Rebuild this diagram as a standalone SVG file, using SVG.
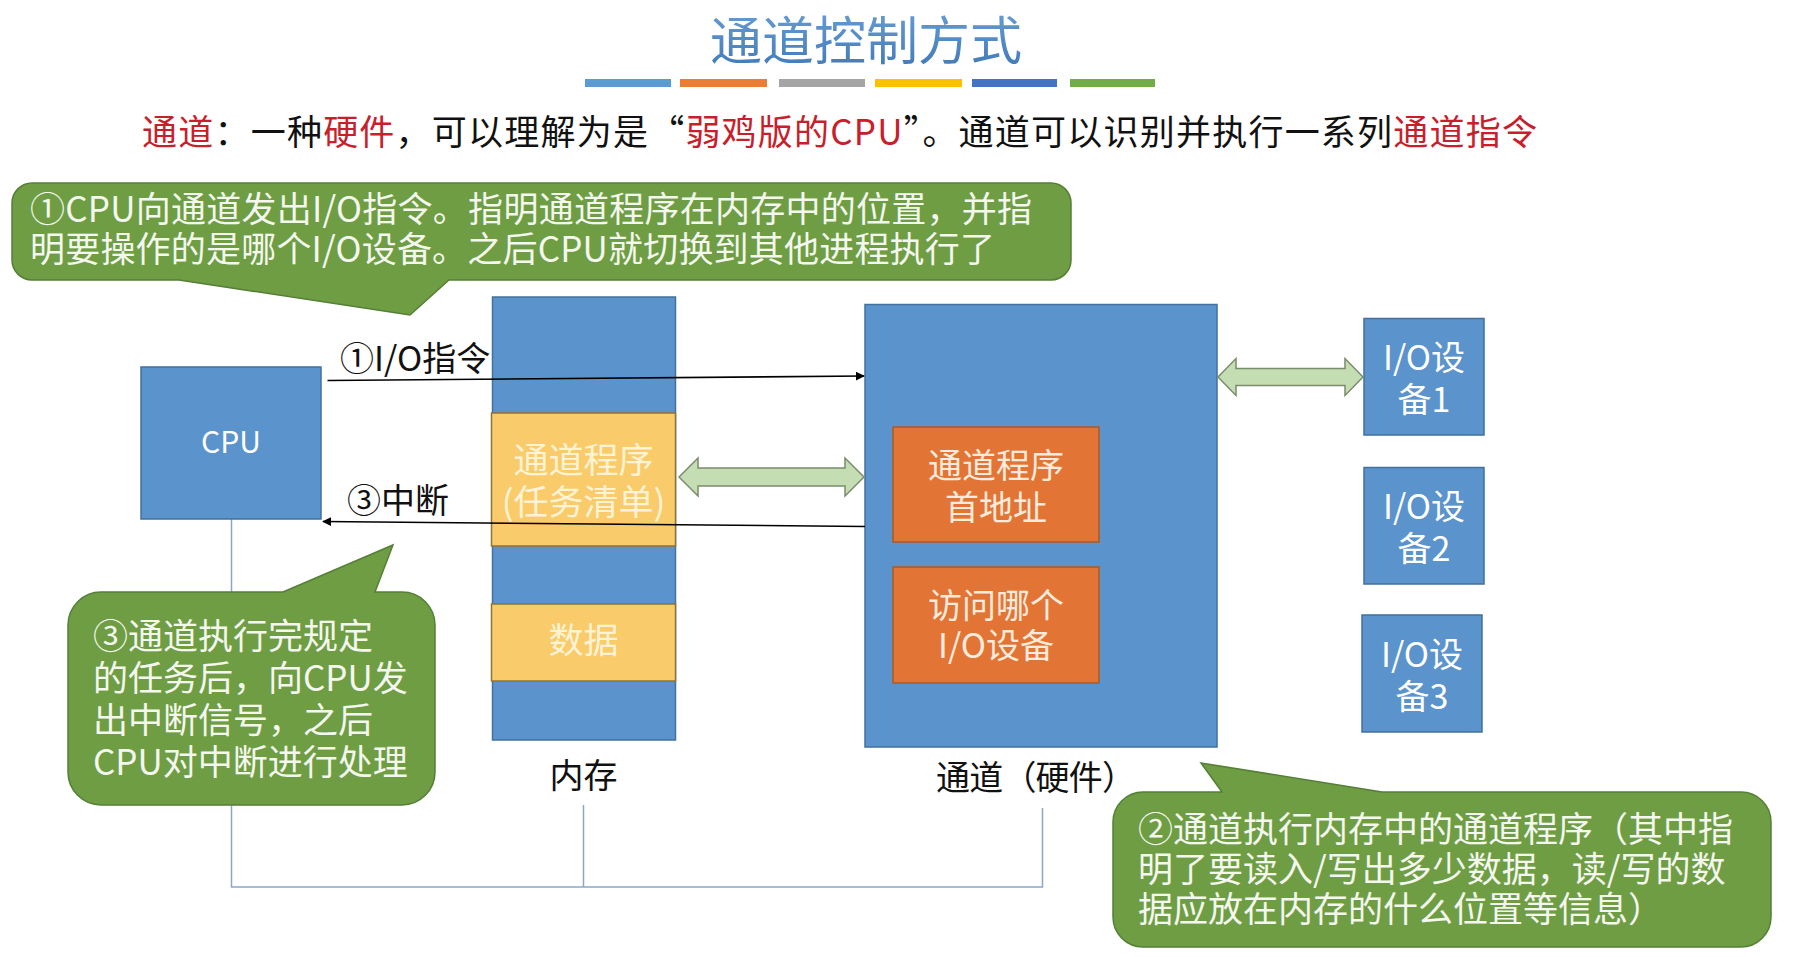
<svg xmlns="http://www.w3.org/2000/svg" width="1808" height="957" viewBox="0 0 1808 957">
<defs>
<style>
text{font-family:"Noto Sans CJK SC","Noto Sans",sans-serif;}
.blue{fill:#5B93CC;stroke:#41719C;stroke-width:1.5;}
.org{fill:#E27536;stroke:#AE5A21;stroke-width:1.5;}
.yel{fill:#F9CB6A;stroke:#8F7436;stroke-width:1.5;}
.call{fill:#6E9D44;stroke:#557F36;stroke-width:1.5;}
.garrow{fill:#C5DDB3;stroke:#7A8C6E;stroke-width:1.5;}
.bus{fill:none;stroke:#8BA6C9;stroke-width:1.5;}
.conn{fill:none;stroke:#000;stroke-width:1.6;}
.wt{fill:#FFFFFF;font-size:34px;}
.ct{fill:#F4F7EE;font-size:35px;}
.yt{fill:#FFF3D6;font-size:35px;}
.ot{fill:#FCEBDD;font-size:34px;}
.bk{fill:#111;font-size:34px;}
.red{fill:#C8202B;}
</style>
<marker id="ah" viewBox="0 0 10 10" refX="9" refY="5" markerWidth="9" markerHeight="9" markerUnits="userSpaceOnUse" orient="auto">
<path d="M0,0 L10,5 L0,10 Z" fill="#000"/>
</marker>
<linearGradient id="tg" x1="0" y1="0" x2="0" y2="1">
<stop offset="0" stop-color="#6DA2D8"/>
<stop offset="1" stop-color="#3E77B6"/>
</linearGradient>
</defs>
<rect width="1808" height="957" fill="#FFFFFF"/>

<g id="title">
<text x="866" y="60" font-size="52" text-anchor="middle" fill="url(#tg)">通道控制方式</text>
<rect x="585" y="79" width="86" height="8" fill="#5B9BD5"/>
<rect x="680" y="79" width="87" height="8" fill="#ED7D31"/>
<rect x="779" y="79" width="86" height="8" fill="#A5A5A5"/>
<rect x="875" y="79" width="87" height="8" fill="#FFC000"/>
<rect x="972" y="79" width="85" height="8" fill="#4472C4"/>
<rect x="1070" y="79" width="85" height="8" fill="#70AD47"/>
</g>

<g id="subtitle">
<text x="142" y="145" font-size="35" fill="#111" textLength="1395"><tspan class="red">通道</tspan>：一种<tspan class="red">硬件</tspan>，可以理解为是“<tspan class="red">弱鸡版的CPU</tspan>”。通道可以识别并执行一系列<tspan class="red">通道指令</tspan></text>
</g>

<g id="bus">
<polyline class="bus" points="231.5,519 231.5,887 1042.5,887 1042.5,808"/>
<line class="bus" x1="583.5" y1="805" x2="583.5" y2="887"/>
</g>

<g id="cpu">
<rect class="blue" x="141" y="367" width="180" height="152"/>
<text class="wt" x="231" y="453" text-anchor="middle" style="font-size:30px">CPU</text>
</g>

<g id="memory">
<rect class="blue" x="492.5" y="297" width="183" height="443"/>
<rect class="yel" x="491.5" y="413" width="184" height="133"/>
<rect class="yel" x="491.5" y="604" width="184" height="77"/>
<text class="yt" x="583.5" y="473" text-anchor="middle">通道程序</text>
<text class="yt" x="583.5" y="515" text-anchor="middle">(任务清单)</text>
<text class="yt" x="583.5" y="653" text-anchor="middle">数据</text>
<text class="bk" x="583.5" y="788" text-anchor="middle">内存</text>
</g>

<g id="channel">
<rect class="blue" x="865" y="304.5" width="352" height="442.5"/>
<rect class="org" x="893" y="427" width="206" height="115"/>
<rect class="org" x="893" y="567" width="206" height="116"/>
<text class="ot" x="996" y="478" text-anchor="middle">通道程序</text>
<text class="ot" x="996" y="520" text-anchor="middle">首地址</text>
<text class="ot" x="996" y="618" text-anchor="middle">访问哪个</text>
<text class="ot" x="996" y="658" text-anchor="middle">I/O设备</text>
<text class="bk" x="936" y="790" textLength="200">通道（硬件）</text>
</g>

<g id="io1">
<rect class="blue" x="1364" y="318.5" width="120" height="116.5"/>
<text class="wt" x="1424" y="370" text-anchor="middle">I/O设</text>
<text class="wt" x="1424" y="411.5" text-anchor="middle">备1</text>
</g>
<g id="io2">
<rect class="blue" x="1364" y="467.5" width="120" height="116.5"/>
<text class="wt" x="1424" y="519" text-anchor="middle">I/O设</text>
<text class="wt" x="1424" y="560.5" text-anchor="middle">备2</text>
</g>
<g id="io3">
<rect class="blue" x="1362" y="615" width="120" height="117"/>
<text class="wt" x="1422" y="667" text-anchor="middle">I/O设</text>
<text class="wt" x="1422" y="708.5" text-anchor="middle">备3</text>
</g>

<g id="connectors">
<line class="conn" x1="327.5" y1="380.5" x2="864" y2="376" marker-end="url(#ah)"/>
<line class="conn" x1="865" y1="526.5" x2="323" y2="521.5" marker-end="url(#ah)"/>
<text class="bk" x="340" y="371">①I/O指令</text>
<text class="bk" x="347" y="513">③中断</text>
<polygon class="garrow" points="679,477 698,458 698,468 845,468 845,458 864,477 845,496 845,486 698,486 698,496"/>
<polygon class="garrow" points="1218,377 1236,358.5 1236,368.5 1345,368.5 1345,358.5 1363,377 1345,395.5 1345,385.5 1236,385.5 1236,395.5"/>
</g>

<g id="callout1">
<path class="call" d="M32,183 H1051 A20,20 0 0 1 1071,203 V260 A20,20 0 0 1 1051,280 H449 L410,315 L179,280 H32 A20,20 0 0 1 12,260 V203 A20,20 0 0 1 32,183 Z"/>
<text class="ct" x="30" y="222" textLength="1002">①CPU向通道发出I/O指令。指明通道程序在内存中的位置，并指</text>
<text class="ct" x="30" y="262" textLength="965">明要操作的是哪个I/O设备。之后CPU就切换到其他进程执行了</text>
</g>

<g id="callout3">
<path class="call" d="M101,592 H283 L393,545 L375,592 H402 A33,33 0 0 1 435,625 V772 A33,33 0 0 1 402,805 H101 A33,33 0 0 1 68,772 V625 A33,33 0 0 1 101,592 Z"/>
<text class="ct" x="93" y="649">③通道执行完规定</text>
<text class="ct" x="93" y="691">的任务后，向CPU发</text>
<text class="ct" x="93" y="733">出中断信号，之后</text>
<text class="ct" x="93" y="775">CPU对中断进行处理</text>
</g>

<g id="callout2">
<path class="call" d="M1143,792 H1222 L1201,763 L1382,792 H1741 A30,30 0 0 1 1771,822 V917 A30,30 0 0 1 1741,947 H1143 A30,30 0 0 1 1113,917 V822 A30,30 0 0 1 1143,792 Z"/>
<text class="ct" x="1138" y="842">②通道执行内存中的通道程序（其中指</text>
<text class="ct" x="1138" y="882">明了要读入/写出多少数据，读/写的数</text>
<text class="ct" x="1138" y="922">据应放在内存的什么位置等信息）</text>
</g>
</svg>
